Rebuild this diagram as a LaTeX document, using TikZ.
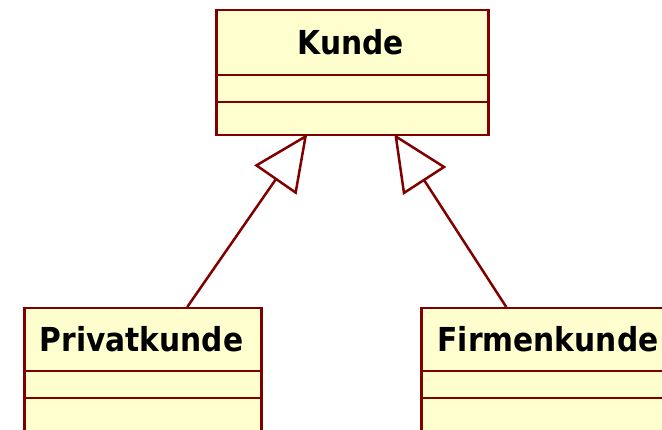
\documentclass[tikz,border=0pt]{standalone}
\usepackage{fontspec}
\setmainfont{DejaVu Sans Condensed}
\usetikzlibrary{arrows.meta}
\definecolor{umlborder}{HTML}{800000}
\definecolor{umlfill}{HTML}{FEFECE}
\tikzset{
  classbox/.style={draw=umlborder, fill=umlfill, line width=2.5pt, rectangle, inner sep=0pt, anchor=north west},
  classname/.style={font=\fontsize{33}{40}\selectfont\bfseries, text=black, inner sep=0pt},
  sepline/.style={draw=umlborder, line width=2.5pt},
  inherit/.style={draw=umlborder, line width=2.5pt, -{Triangle[length=56pt,width=51pt,fill=white,line join=miter]}}
}
\begin{document}
\begin{tikzpicture}[x=1pt,y=-1pt]
\useasboundingbox (0,0) rectangle (662,430);
% Kunde
\node[classbox, minimum width=272pt, minimum height=125pt] (k) at (215,9) {};
\node[classname] (kt) at (351,42) {Kunde};
\draw[sepline] (215,75) -- (487,75);
\draw[sepline] (215,102) -- (487,102);
% Privatkunde
\node[classbox, minimum width=237pt, minimum height=160pt] (p) at (23,307) {};
\node[classname] (pt) at (141.5,339) {Privatkunde};
\draw[sepline] (23,371) -- (260,371);
\draw[sepline] (23,398) -- (260,398);
% Firmenkunde
\node[classbox, minimum width=256pt, minimum height=160pt] (f) at (420,307) {};
\node[classname] (ft) at (548,339) {Firmenkunde};
\draw[sepline] (420,371) -- (676,371);
\draw[sepline] (420,398) -- (676,398);
% connectors
\draw[inherit] ([xshift=44.5pt]p.north) -- ([xshift=-45pt,yshift=2.5pt]k.south);
\draw[inherit] ([xshift=-43pt]f.north) -- ([xshift=42pt,yshift=2.5pt]k.south);
\end{tikzpicture}
\end{document}
